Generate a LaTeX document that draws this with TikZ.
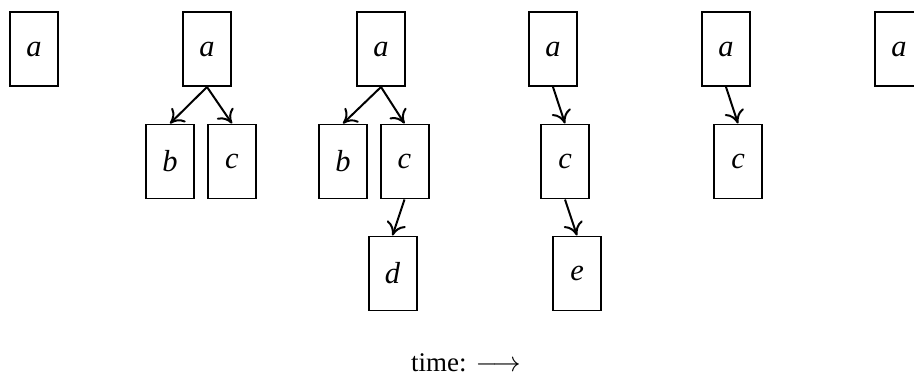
\documentclass[tikz,border=0pt]{standalone}
\usepackage{fontspec}
\setmainfont{Liberation Serif}
\usetikzlibrary{arrows.meta}
\begin{document}
\begin{tikzpicture}[x=0.015cm,y=-0.015cm,
    main/.style = {draw, line width=0.85pt, minimum width=0.72cm, minimum height=1.11cm, inner sep=0pt, font=\fontsize{13}{15}\selectfont\itshape},
    arr/.style = {line width=0.85pt, -{To[length=5.5pt,width=8.5pt]}}]
    \useasboundingbox (0,0) rectangle (914,377);

    % step 1
    \node[main] (a1) at (34,49) {a};

    % step 2
    \node[main] (a2) at (207,49) {a};
    \node[main] (b2) at (170,161.5) {b};
    \node[main] (c2) at (232,161.5) {c};
    \draw[arr] (a2.south) -- (b2.north);
    \draw[arr] (a2.south) -- (c2.north);

    % step 3
    \node[main] (a3) at (381,49) {a};
    \node[main] (b3) at (343,161.5) {b};
    \node[main] (c3) at (404.5,161.5) {c};
    \node[main] (d3) at (392.5,273.5) {d};
    \draw[arr] (a3.south) -- (b3.north);
    \draw[arr] (a3.south) -- (c3.north);
    \draw[arr] (c3.south) -- (d3.north);

    % step 4
    \node[main] (a4) at (553,49) {a};
    \node[main] (c4) at (565,161.5) {c};
    \node[main] (e4) at (577,273.5) {e};
    \draw[arr] (a4.south) -- (c4.north);
    \draw[arr] (c4.south) -- (e4.north);

    % step 5
    \node[main] (a5) at (726,49) {a};
    \node[main] (c5) at (738,161.5) {c};
    \draw[arr] (a5.south) -- (c5.north);

    % step 6
    \node[main] (a6) at (899,49) {a};

    \node[font=\fontsize{11.5}{13}\selectfont] (time) at (466,363) {time: $\longrightarrow$};
\end{tikzpicture}
\end{document}
